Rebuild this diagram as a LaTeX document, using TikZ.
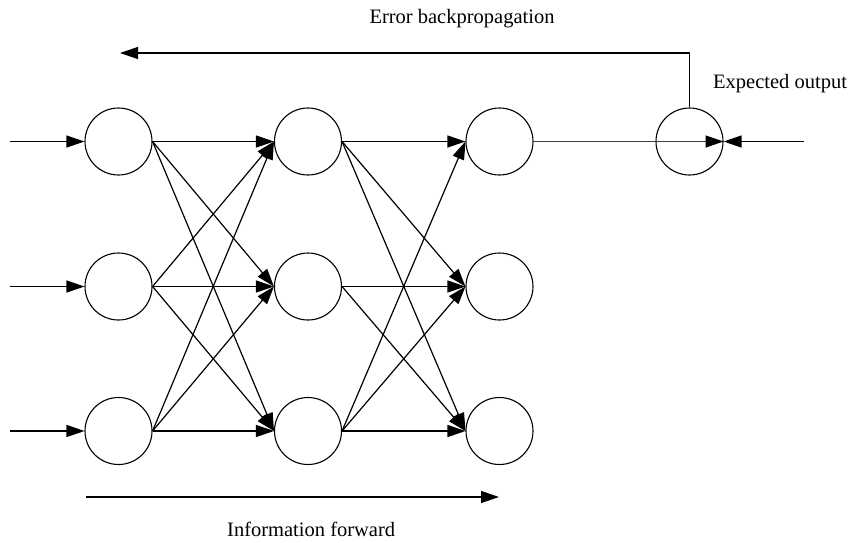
\documentclass[tikz,border=0pt]{standalone}
\usepackage{fontspec}
\setmainfont{Liberation Serif}
\usetikzlibrary{arrows.meta}
\begin{document}
\begin{tikzpicture}[x=1pt,y=-1pt,
  neuron/.style={circle,draw,line width=1.1pt,minimum size=67pt,inner sep=0pt},
  conn/.style={line width=1.2pt,-{Triangle[length=18pt,width=12pt,color=black]}},
  lbl/.style={font=\fontsize{20.5}{24}\selectfont,inner sep=0pt}]
\useasboundingbox (0,0) rectangle (852,542);
% neurons
\node[neuron] (a1) at (118.5,141.5) {};
\node[neuron] (a2) at (118.5,286.5) {};
\node[neuron] (a3) at (118.5,431) {};
\node[neuron] (b1) at (308,141.5) {};
\node[neuron] (b2) at (308,286.5) {};
\node[neuron] (b3) at (308,431) {};
\node[neuron] (c1) at (499.5,141.5) {};
\node[neuron] (c2) at (499.5,286.5) {};
\node[neuron] (c3) at (499.5,431) {};
\node[neuron] (o) at (689.5,141.5) {};
% free ends
\coordinate (in1) at (10,141.5);
\coordinate (in2) at (10,286.5);
\coordinate (in3) at (10,431);
\coordinate (exp) at (804,141.5);
\coordinate (fb) at (120,53);
\coordinate (fwA) at (86,497);
\coordinate (fwB) at (499,497);
% inputs
\draw[conn] (in1) -- (a1.west);
\draw[conn] (in2) -- (a2.west);
\draw[conn] (in3) -- (a3.west);
% layer 1 -> 2
\foreach \s in {a1,a2,a3}{
  \foreach \t in {b1,b2,b3}{
    \draw[conn] (\s.east) -- (\t.west);
  }
}
% layer 2 -> 3
\draw[conn] (b1.east) -- (c1.west);
\draw[conn] (b1.east) -- (c2.west);
\draw[conn] (b1.east) -- (c3.west);
\draw[conn] (b2.east) -- (c2.west);
\draw[conn] (b2.east) -- (c3.west);
\draw[conn] (b3.east) -- (c1.west);
\draw[conn] (b3.east) -- (c2.west);
\draw[conn] (b3.east) -- (c3.west);
% output
\draw[conn,draw=black!75] (c1.east) -- (o.east);
\draw[conn] (exp) -- (o.east);
\draw[conn] (o.north) |- (fb);
\draw[conn] (fwA) -- (fwB);
% labels
\node[lbl,anchor=base] (t1) at (462,23) {Error backpropagation};
\node[lbl,anchor=base west] (t2) at (713,88) {Expected output};
\node[lbl,anchor=base west] (t3) at (227,536) {Information forward};
\end{tikzpicture}
\end{document}
